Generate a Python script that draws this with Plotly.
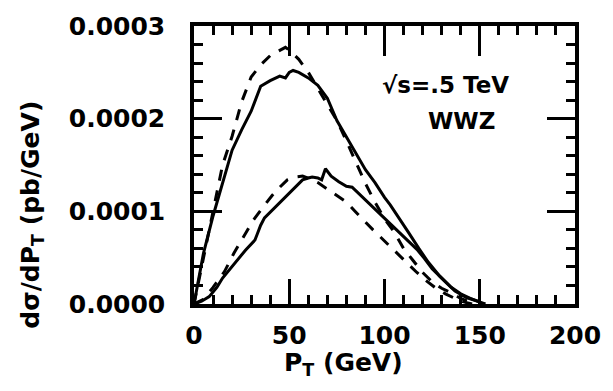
import plotly.graph_objects as go

# Upper solid curve
pt_us = [0, 5, 10, 15, 20, 25, 30, 35, 40, 45, 48, 50, 52, 55, 60, 65, 70, 75, 80, 86, 90, 95, 100, 103, 108, 113, 118, 123, 129, 135, 140, 145, 150, 153]
y_us = [0, 0.55, 0.95, 1.31, 1.66, 1.88, 2.08, 2.35, 2.41, 2.46, 2.44, 2.50, 2.52, 2.50, 2.44, 2.36, 2.22, 1.98, 1.80, 1.58, 1.45, 1.31, 1.15, 1.07, 0.92, 0.76, 0.60, 0.45, 0.30, 0.18, 0.11, 0.06, 0.02, 0]

# Upper dashed curve
pt_ud = [0, 5, 10, 15, 20, 25, 30, 35, 40, 45, 48, 50, 55, 60, 65, 70, 75, 80, 85, 90, 95, 100, 105, 110, 115, 120, 125, 130, 135, 140, 145, 148]
y_ud = [0, 0.50, 1.00, 1.50, 1.81, 2.18, 2.45, 2.58, 2.68, 2.74, 2.77, 2.74, 2.64, 2.50, 2.33, 2.16, 1.98, 1.76, 1.52, 1.30, 1.10, 0.92, 0.78, 0.60, 0.47, 0.34, 0.24, 0.17, 0.12, 0.06, 0.02, 0]

# Lower solid curve
pt_ls = [0, 4, 8, 12, 15, 19, 23, 27, 32, 35, 37, 42, 45, 49, 53, 57, 60, 62, 65, 67, 69, 72, 76, 80, 83, 87, 91, 95, 100, 104, 108, 112, 117, 121, 125, 130, 137, 143, 149, 152]
y_ls = [0, 0.03, 0.08, 0.18, 0.28, 0.38, 0.49, 0.58, 0.69, 0.85, 0.93, 1.03, 1.10, 1.17, 1.25, 1.34, 1.36, 1.37, 1.36, 1.34, 1.46, 1.38, 1.32, 1.27, 1.26, 1.18, 1.10, 1.02, 0.93, 0.85, 0.76, 0.68, 0.59, 0.49, 0.38, 0.28, 0.14, 0.07, 0.03, 0]

# Lower dashed curve
pt_ld = [0, 5, 10, 16, 21, 26, 31, 36, 41, 45, 49, 53, 57, 61, 65, 70, 75, 80, 85, 90, 94, 100, 104, 107, 112, 117, 122, 127, 132, 137, 142, 146]
y_ld = [0, 0.05, 0.18, 0.35, 0.55, 0.73, 0.90, 1.04, 1.17, 1.26, 1.34, 1.37, 1.38, 1.35, 1.31, 1.24, 1.17, 1.10, 0.99, 0.88, 0.80, 0.68, 0.60, 0.53, 0.43, 0.34, 0.25, 0.17, 0.11, 0.06, 0.02, 0]

SCALE = 1e-4
X_RANGE = [0, 200]
Y_RANGE = [0, 0.0003]
X_MAJOR, X_MINOR = 50, 10
Y_MAJOR, Y_MINOR = 0.0001, 0.00002

fig = go.Figure()
for xs, ys, dash in [(pt_us, y_us, "solid"), (pt_ud, y_ud, "11px,10px"),
                     (pt_ls, y_ls, "solid"), (pt_ld, y_ld, "11px,10px")]:
    fig.add_trace(go.Scatter(x=xs, y=[v * SCALE for v in ys], mode="lines",
                             line=dict(color="black", width=3, dash=dash),
                             showlegend=False, cliponaxis=True))

font_main = dict(family="DejaVu Sans", size=25, color="black", weight="bold")
font_ann = dict(family="DejaVu Sans", size=23, color="black", weight="bold")

common = dict(ticks="inside", tickwidth=2.5, tickcolor="black", showline=True, linewidth=3.5,
              linecolor="black", showgrid=False, zeroline=False, tickmode="linear", tick0=0)

fig.update_layout(
    xaxis=dict(range=X_RANGE, dtick=X_MAJOR, ticklen=25, mirror=True,
               tickfont=font_main, ticklabelstandoff=6, ticklabeloverflow="allow", **common),
    yaxis=dict(range=Y_RANGE, dtick=Y_MAJOR, tickformat=".4f", ticklen=28,
               mirror=True, tickfont=font_main, ticklabelstandoff=20, ticklabeloverflow="allow", **common),
    xaxis2=dict(range=X_RANGE, overlaying="x", side="top", dtick=X_MAJOR, ticklen=30,
                showticklabels=False, **common),
    yaxis2=dict(range=Y_RANGE, overlaying="y", side="right", dtick=Y_MAJOR, ticklen=28,
                showticklabels=False, **common),
    xaxis3=dict(range=X_RANGE, overlaying="x", side="bottom", dtick=X_MINOR, ticklen=9,
                showticklabels=False, **common),
    yaxis3=dict(range=Y_RANGE, overlaying="y", side="left", dtick=Y_MINOR, ticklen=9,
                showticklabels=False, **common),
    xaxis4=dict(range=X_RANGE, overlaying="x", side="top", dtick=X_MINOR, ticklen=9,
                showticklabels=False, **common),
    yaxis4=dict(range=Y_RANGE, overlaying="y", side="right", dtick=Y_MINOR, ticklen=9,
                showticklabels=False, **common),
)
# invisible traces to activate the extra tick axes
for k in ["2", "3", "4"]:
    fig.add_trace(go.Scatter(x=[None], y=[None], xaxis="x" + k, yaxis="y" + k,
                             showlegend=False, hoverinfo="skip"))

fig.update_layout(width=613, height=391, margin=dict(l=194, r=26, t=12, b=87),
                  paper_bgcolor="white", plot_bgcolor="white")

W = 613 - 194 - 26
H = 391 - 12 - 87
def px(x):
    return (x - 194) / W
def py(y):
    return (391 - 87 - y) / H

def ann(text, x, y, font, angle=0):
    fig.add_annotation(text=text, x=px(x), y=py(y), xref="paper", yref="paper", showarrow=False,
                       xanchor="center", yanchor="middle", textangle=angle, font=font)

ann("√s=.5 TeV", 453, 74, font_ann)
ann("WWZ", 470, 112, font_ann)
ann("P<sub>T</sub> (GeV)", 348, 367, font_main)
ann("dσ/dP<sub>T</sub> (pb/GeV)", 26, 210, font_main, angle=-90)

fig.write_html("out.html")
